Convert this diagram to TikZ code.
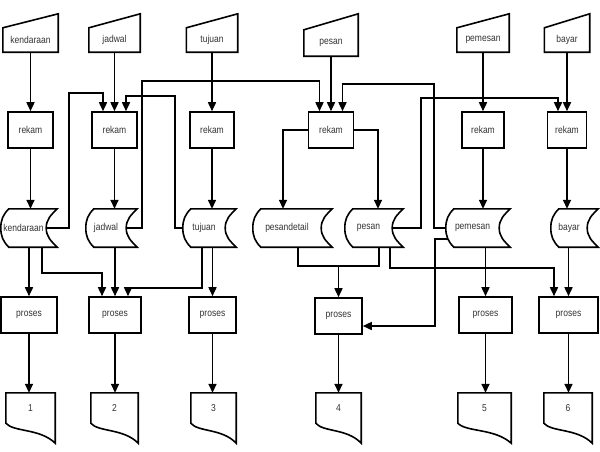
\documentclass[tikz,border=0pt]{standalone}
\usepackage{fontspec}
\newfontfamily\lblfont[FakeStretch=0.85]{Liberation Sans}
\usetikzlibrary{arrows.meta,calc}
\begin{document}
\begin{tikzpicture}[x=1pt,y=-1pt,
  lw/.style={line width=1.6pt, draw=black},
  lbl/.style={inner sep=0pt, font=\lblfont\fontsize{10}{12}\selectfont, text=black!80},
  proc/.style={lbl, draw, lw, minimum height=36pt},
  shp/.style={lw, line join=miter},
  arr/.style={lw, -{Triangle[length=9pt,width=8pt]}},
  ln/.style={lw}]
\useasboundingbox[fill=white] (0,0) rectangle (600,451);

% manual inputs
\node[lbl, minimum width=55pt, minimum height=24pt] (inK) at (30.5,40) {kendaraan};
\node[lbl, minimum width=51pt, minimum height=24pt] (inJ) at (114.5,40) {jadwal};
\node[lbl, minimum width=51pt, minimum height=24pt] (inT) at (212,40) {tujuan};
\node[lbl, minimum width=54pt, minimum height=26pt] (inP) at (331,43) {pesan};
\node[lbl, minimum width=52pt, minimum height=24pt] (inPm) at (483,40) {pemesan};
\node[lbl, minimum width=45pt, minimum height=24pt] (inB) at (567,40) {bayar};
\foreach \n/\r in {inK/14,inJ/14,inT/14,inP/16,inPm/14,inB/14}
  \draw[shp] (\n.south west) -- (\n.south east) -- ([yshift=\r pt]\n.north east) -- (\n.north west) -- cycle;

% rekam processes
\node[proc, minimum width=45pt] (rk1) at (30.5,130) {rekam};
\node[proc, minimum width=45pt] (rk2) at (114.5,130) {rekam};
\node[proc, minimum width=44pt] (rk3) at (212,130) {rekam};
\node[proc, minimum width=45pt] (rk4) at (331,130) {rekam};
\node[proc, minimum width=42pt] (rk5) at (483,130) {rekam};
\node[proc, minimum width=39pt] (rk6) at (567,130) {rekam};

% stored data
\node[lbl, minimum width=45pt, minimum height=38pt] (stK) at (23.5,228) {kendaraan};
\node[lbl, minimum width=40pt, minimum height=38pt] (stJ) at (106,228) {jadwal};
\node[lbl, minimum width=42pt, minimum height=38pt] (stT) at (204,228) {tujuan};
\node[lbl, minimum width=68pt, minimum height=38pt] (stPD) at (287,228) {pesandetail};
\node[lbl, minimum width=47pt, minimum height=38pt] (stP) at (368.5,228) {pesan};
\node[lbl, minimum width=53pt, minimum height=38pt] (stPm) at (472.5,228) {pemesan};
\node[lbl, minimum width=36pt, minimum height=38pt] (stB) at (569,228) {bayar};
\foreach \n in {stK,stJ,stT,stPD,stP,stPm,stB}
  \draw[shp] ([xshift=8pt]\n.north west) -- ([xshift=11pt]\n.north east)
    to[out=-135,in=90] (\n.east) to[out=-90,in=135] ([xshift=11pt]\n.south east)
    -- ([xshift=8pt]\n.south west) to[out=135,in=-90] (\n.west)
    to[out=90,in=-135] ([xshift=8pt]\n.north west) -- cycle;

% proses
\node[proc, minimum width=56pt] (pr1) at (29,315) {proses};
\node[proc, minimum width=52pt] (pr2) at (115,315) {proses};
\node[proc, minimum width=47pt] (pr3) at (212.5,315) {proses};
\node[proc, minimum width=47pt] (pr4) at (338.5,316) {proses};
\node[proc, minimum width=53pt] (pr5) at (485.5,315) {proses};
\node[proc, minimum width=59pt] (pr6) at (568.5,315) {proses};

% documents
\node[lbl, minimum width=49pt, minimum height=30pt] (d1) at (30.5,408) {1};
\node[lbl, minimum width=47pt, minimum height=30pt] (d2) at (114.5,408) {2};
\node[lbl, minimum width=45pt, minimum height=30pt] (d3) at (213.5,408) {3};
\node[lbl, minimum width=45pt, minimum height=30pt] (d4) at (338.5,408) {4};
\node[lbl, minimum width=53pt, minimum height=30pt] (d5) at (484.5,408) {5};
\node[lbl, minimum width=48pt, minimum height=30pt] (d6) at (568,408) {6};
\foreach \n in {d1,d2,d3,d4,d5,d6}
  \draw[shp] (\n.south west) -- (\n.north west) -- (\n.north east) -- ([yshift=-20pt]\n.south east)
    .. controls ($(\n.south west)!0.69!(\n.south east)+(0,5)$) and ($(\n.south west)!0.16!(\n.south east)+(0,9)$) .. (\n.south west) -- cycle;

% inputs -> rekam
\foreach \a/\b in {inK/rk1,inJ/rk2,inT/rk3,inP/rk4,inPm/rk5,inB/rk6}
  \draw[arr] (\a.south) -- (\b.north);

% rekam -> storage
\foreach \a/\b in {rk1/stK,rk2/stJ,rk3/stT,rk5/stPm,rk6/stB}
  \draw[arr] (\a.south) -- (\a.south |- \b.north);
\draw[arr] (rk4.west) -| ([xshift=-4pt]stPD.north);
\draw[arr] (rk4.east) -| ([xshift=9.5pt]stP.north);

% feedback storage -> rekam
\draw[arr] (stK.east) -| (69,93) -| ([xshift=-11.5pt]rk2.north);
\draw[arr] (stJ.east) -| (142,81) -| ([xshift=-11.5pt]rk4.north);
\draw[arr] (stT.west) -| (175,96) -| ([xshift=11.5pt]rk2.north);
\draw[arr] (stPm.west) -| (434,84) -| ([xshift=11.5pt]rk4.north);
\draw[arr] (stP.east) -| (421,98) -| ([xshift=-9pt]rk6.north);

% storage -> proses
\draw[arr] (pr1.north |- stK.south) -- (pr1.north);
\draw[arr] ([xshift=18.5pt]stK.south) -- ++(0,26) -| ([xshift=-13pt]pr2.north);
\draw[arr] (pr2.north |- stJ.south) -- (pr2.north);
\draw[arr] ([xshift=-2pt]stT.south) -- ++(0,41) -| ([xshift=13pt]pr2.north);
\draw[arr] (pr3.north |- stT.south) -- (pr3.north);
\draw[arr] ([xshift=11pt]stPD.south) -- ++(0,19) coordinate (j4) -| (pr4.north);
\draw[ln] (j4) -| ([xshift=10.5pt]stP.south);
\draw[arr] ([xshift=21.5pt]stP.south) -- ++(0,21) -| ([xshift=-14.5pt]pr6.north);
\draw[arr] ([xshift=2pt,yshift=-11pt]stPm.west) -- ++(-13,0) |- ([yshift=-10pt]pr4.east);
\draw[arr] (pr5.north |- stPm.south) -- (pr5.north);
\draw[arr] (pr6.north |- stB.south) -- (pr6.north);

% proses -> documents
\foreach \a/\b in {pr1/d1,pr2/d2,pr3/d3,pr4/d4,pr5/d5,pr6/d6}
  \draw[arr] (\a.south) -- (\a.south |- \b.north);
\end{tikzpicture}
\end{document}
